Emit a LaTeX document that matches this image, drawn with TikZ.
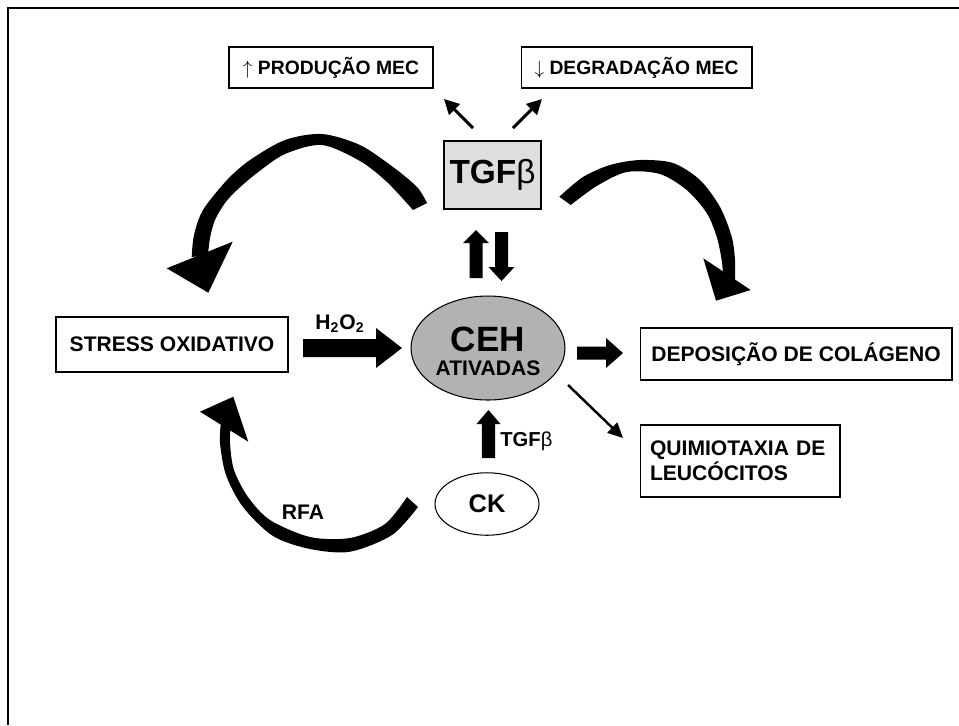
\documentclass[tikz,border=0pt]{standalone}
\usepackage{fontspec}
\setmainfont{Liberation Sans}
\usetikzlibrary{arrows.meta,shapes.geometric}
\definecolor{cehgray}{gray}{0.70}
\definecolor{tgfgray}{gray}{0.87}
\newcommand{\myHArrow}[6]{% x1, x2, y, half shaft, half head, head length
  \fill ({#1},{#3-#4}) -- ({#2-#6},{#3-#4}) -- ({#2-#6},{#3-#5}) -- ({#2},{#3}) -- ({#2-#6},{#3+#5}) -- ({#2-#6},{#3+#4}) -- ({#1},{#3+#4}) -- cycle;}
\newcommand{\myUpArrow}[6]{% x, ytail, ytip, half shaft, half head, head length
  \fill ({#1-#4},{#2}) -- ({#1-#4},{#3+#6}) -- ({#1-#5},{#3+#6}) -- ({#1},{#3}) -- ({#1+#5},{#3+#6}) -- ({#1+#4},{#3+#6}) -- ({#1+#4},{#2}) -- cycle;}
\newcommand{\myDownArrow}[6]{%
  \fill ({#1-#4},{#2}) -- ({#1-#4},{#3-#6}) -- ({#1-#5},{#3-#6}) -- ({#1},{#3}) -- ({#1+#5},{#3-#6}) -- ({#1+#4},{#3-#6}) -- ({#1+#4},{#2}) -- cycle;}
\begin{document}
\begin{tikzpicture}[x=0.02cm,y=-0.02cm,
  box/.style={draw,line width=0.6pt,inner sep=0pt,font=\bfseries\fontsize{12}{14}\selectfont},
  smallbox/.style={box,font=\bfseries\fontsize{11}{13}\selectfont},
  lbl/.style={inner sep=0pt,font=\bfseries\fontsize{12}{14}\selectfont},
  thinarr/.style={line width=1.7pt,-{Triangle[length=0.3cm,width=0.3cm]}},
  diagarr/.style={line width=1.4pt,-{Triangle[length=0.3cm,width=0.28cm]}}]
\useasboundingbox (0,0) rectangle (959,725);
% frame
\draw[line width=1.4pt] (8,725) -- (8,8) -- (959,8);

% boxes
\node[smallbox,minimum width=4.08cm,minimum height=0.82cm] (prod) at (331,67.5) {$\mathbf{\uparrow}$ PRODUÇÃO MEC};
\node[smallbox,minimum width=4.62cm,minimum height=0.82cm] (degr) at (636.5,67.5) {$\mathbf{\downarrow}$ DEGRADAÇÃO MEC};
\node[box,fill=tgfgray,minimum width=1.94cm,minimum height=1.36cm,font=\bfseries\fontsize{19}{22}\selectfont] (tgf) at (492.5,175) {TGF{\mdseries β}};
\node[box,minimum width=4.64cm,minimum height=1.1cm] (stress) at (172,344.5) {STRESS OXIDATIVO};
\node[box,minimum width=6.24cm,minimum height=1.04cm] (depo) at (796,354) {DEPOSIÇÃO DE COLÁGENO};
\node[box,minimum width=4cm,minimum height=1.44cm,text width=3.6cm,inner xsep=0.2cm,align=left] (quim) at (740,461) {QUIMIOTAXIA DE\\LEUCÓCITOS};

% ellipses
\node[ellipse,draw,line width=0.6pt,fill=cehgray,minimum width=3.08cm,minimum height=2.08cm,inner sep=0pt] (ceh) at (488,348) {};
\node[lbl,anchor=base,font=\bfseries\fontsize{20}{24}\selectfont] (cehT) at (488,351) {CEH};
\node[lbl,anchor=base] (cehA) at (488,375) {ATIVADAS};
\node[ellipse,draw,line width=0.6pt,minimum width=2.08cm,minimum height=1.25cm,inner sep=0pt,font=\bfseries\fontsize{14.5}{17}\selectfont] (ck) at (487,504) {CK};

% labels
\node[lbl] (h2o2) at (340,324) {H\textsubscript{2}O\textsubscript{2}};
\node[lbl,anchor=west,font=\bfseries\fontsize{11.5}{14}\selectfont] (tgflbl) at (500,441) {TGF{\mdseries β}};
\node[lbl] (rfa) at (303,512.5) {RFA};

% thin arrows
\coordinate (pa1) at (473,128); \coordinate (pa2) at (444,99);
\coordinate (da1) at (513,128); \coordinate (da2) at (542,99);
\coordinate (qa1) at (568,385); \coordinate (qa2) at (623,438);
\draw[thinarr] (pa1) -- (pa2);
\draw[thinarr] (da1) -- (da2);
\draw[diagarr] (qa1) -- (qa2);

% block arrows
\myHArrow{303}{402}{348}{9}{20}{26}
\myHArrow{577}{623}{353}{6.5}{15}{17}
\myUpArrow{476}{278}{230}{6.5}{13}{13}
\myDownArrow{501.5}{232}{281}{6.5}{13}{14}
\myUpArrow{488.5}{458}{410}{6.7}{12}{14}

% left curved arrow
\fill plot[smooth] coordinates {(427,203) (417,187) (393,167) (360,145) (322,134) (285,140) (250,160) (227,180) (203,210) (194,235) (191.7,257)}
  -- plot[smooth] coordinates {(208,255) (210,238) (215,220) (225,203) (237,190) (257,173) (285,154) (322,145) (360,161) (387,182) (413,210)} -- cycle;
\fill (166.7,268.3) -- (232.7,241.7) -- (208.3,292.7) -- cycle;

% right curved arrow
\fill plot[smooth] coordinates {(559.3,196.7) (583,177) (610,165) (640,160) (673,163) (700,180) (720,207) (731.7,236.7) (735,260) (735,280)}
  -- plot[smooth] coordinates {(723,275) (721.7,260) (716.7,236.7) (706.7,213) (686.7,190) (660,174) (626.7,172) (596.7,186) (570.7,205)} -- cycle;
\fill (703.3,258.3) -- (750.7,290) -- (716,300.7) -- cycle;

% bottom curved arrow
\fill plot[smooth] coordinates {(418,507) (392,535) (350,551.7) (310,549) (273,536) (243,507) (226,475) (220,443) (221,422)}
  -- plot[smooth] coordinates {(231,422) (230,443) (234,470) (248,497) (270,520) (310,537) (350,538) (385,524) (407,497)} -- cycle;
\fill (200,411.7) -- (233.3,396.7) -- (248.3,441.7) -- cycle;
\end{tikzpicture}
\end{document}
